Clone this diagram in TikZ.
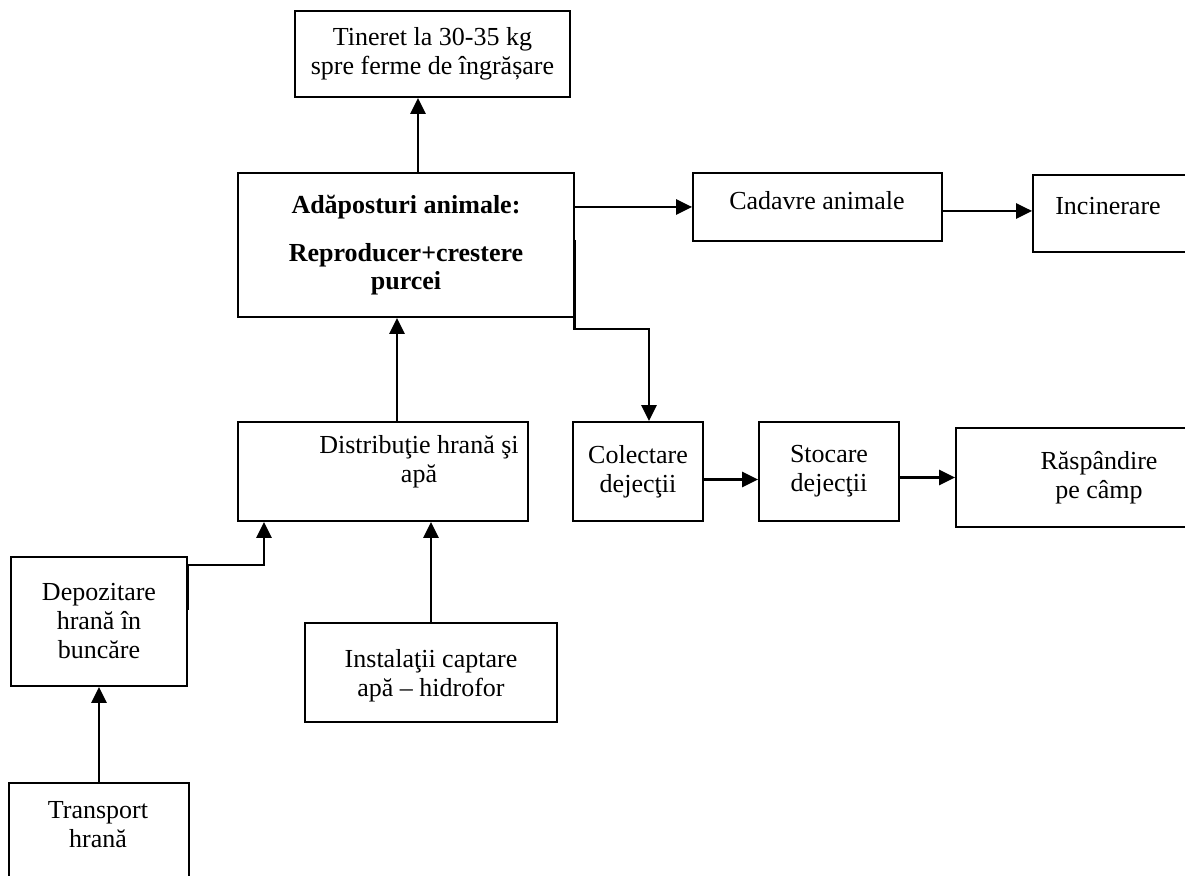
\documentclass[tikz,border=0pt]{standalone}
\usepackage{fontspec}
\setmainfont{Liberation Serif}
\usetikzlibrary{arrows.meta, positioning}
\tikzstyle{every picture} = [x=0.5pt, y=-0.5pt]
\tikzstyle{box} = [draw, rectangle, line width=0.85pt, inner sep=0pt, align=center, font=\fontsize{13}{14.5}\selectfont]
\tikzstyle{txt} = [inner sep=0pt, align=center, font=\fontsize{13}{14.5}\selectfont]
\tikzstyle{flow} = [line width=1.4pt, -{Triangle[length=8pt, width=7.5pt]}]

\begin{document}
\begin{tikzpicture}
            \useasboundingbox (0,0) rectangle (1185,876);
            \node (node 1) [box, minimum width=137.5pt, minimum height=43pt] at (432.5,54) {Tineret la 30-35 kg\\spre ferme de îngrășare};
            \node (node 2) [box, minimum width=168pt, minimum height=72pt, font=\fontsize{13}{14}\selectfont\bfseries] at (406,245) {Adăposturi animale:\\[10pt]Reproducer+crestere\\purcei};
            \node (node 3) [box, minimum width=124.5pt, minimum height=34pt] at (817.5,207) {};
            \node (node 3 text) [txt] at (817,201) {Cadavre animale};
            \node (node 4) [box, minimum width=77pt, minimum height=38.5pt] at (1110,213.5) {};
            \node (node 4 text) [txt] at (1108,206) {Incinerare};
            \node (node 5) [box, minimum width=145pt, minimum height=49.5pt] at (383,471.5) {};
            \node (node 5 text) [txt] at (419,462) {Distribuţie hrană şi\\apă};
            \node (node 6) [box, minimum width=65pt, minimum height=49.5pt] at (638,471.5) {Colectare\\dejecţii};
            \node (node 7) [box, minimum width=70pt, minimum height=49.5pt] at (829,471.5) {Stocare\\dejecţii};
            \node (node 8) [box, minimum width=143pt, minimum height=49.5pt] at (1099,477.5) {Răspândire\\pe câmp};
            \node (node 9) [box, minimum width=88pt, minimum height=64.5pt] at (99,621.5) {Depozitare\\hrană în\\buncăre};
            \node (node 10) [box, minimum width=126pt, minimum height=49.5pt] at (431,672.5) {};
            \node (node 10 text) [txt] at (431,676) {Instalaţii captare\\apă -- hidrofor};
            \node (node 11) [box, minimum width=90pt, minimum height=60pt] at (99,843) {};
            \node (node 11 text) [txt] at (98,825) {Transport\\hrană};

            \draw[flow] ([xshift=-7.25pt]node 1.south |- node 2.north) -- ([xshift=-7.25pt]node 1.south);
            \draw[flow] (node 2.east |- node 3.west) -- (node 3.west);
            \draw[flow] ([yshift=-2pt]node 3.east) -- ([yshift=-2pt]node 3.east -| node 4.west);
            \draw[flow] ([yshift=2.5pt]node 2.east) -- ++(0,89) -| ([xshift=5.5pt]node 6.north);
            \draw[flow] ([xshift=7pt]node 5.north) -- ([xshift=7pt]node 5.north |- node 2.south);
            \draw[flow] ([yshift=5.75pt]node 9.east) -- ++(0,-45) -| ([xshift=-59.5pt]node 5.south);
            \draw[flow] (node 10.north) -- (node 10.north |- node 5.south);
            \draw[flow] (node 11.north) -- (node 11.north |- node 9.south);
            \draw[flow] ([yshift=-4pt]node 6.east) -- ([yshift=-4pt]node 6.east -| node 7.west);
            \draw[flow] ([yshift=-3pt]node 7.east) -- ([yshift=-3pt]node 7.east -| node 8.west);
        \end{tikzpicture}
\end{document}
